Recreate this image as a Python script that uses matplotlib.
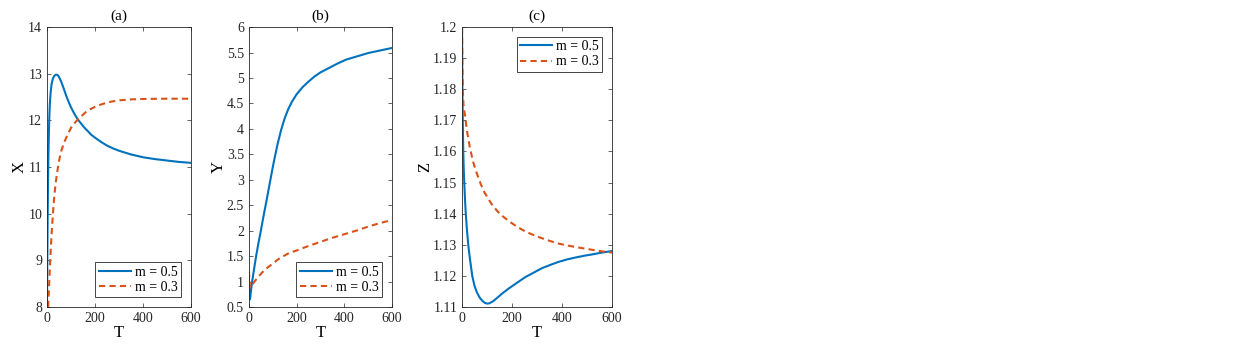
import numpy as np
import matplotlib
matplotlib.use("Agg")
import matplotlib.pyplot as plt

# colores tipo MATLAB
c1 = "#0072BD"
c2 = "#D95319"

# panel (a): X vs T
tXa = [0, 1, 2, 3, 4, 5, 6, 8, 10, 12, 15, 18, 20, 25, 30, 35, 40, 45, 50, 55, 60, 70, 80, 90, 100,
       110, 120, 130, 141, 155, 170, 185, 200, 225, 250, 275, 300, 350, 400, 450, 500, 550, 600]
Xa = [7.9, 8.7, 9.4, 10.0, 10.5, 10.9, 11.25, 11.75, 12.1, 12.35, 12.58, 12.73, 12.8, 12.9, 12.95, 12.975, 12.98, 12.97, 12.93, 12.88, 12.82, 12.68, 12.53, 12.4, 12.28,
      12.18, 12.09, 12.01, 11.94, 11.85, 11.77, 11.69, 11.63, 11.54, 11.46, 11.4, 11.35, 11.27, 11.21, 11.17, 11.14, 11.11, 11.09]
tXb = [5, 7, 10, 12, 15, 18, 20, 25, 30, 35, 40, 45, 50, 55, 60, 65, 75, 85, 100, 113, 125, 141,
       160, 180, 200, 230, 266, 300, 350, 400, 500, 600]
Xb = [8.0, 8.25, 8.6, 8.85, 9.15, 9.45, 9.62, 10.02, 10.35, 10.6, 10.8, 10.97, 11.12, 11.25, 11.35, 11.43, 11.57, 11.68, 11.84, 11.93, 12.0, 12.08,
      12.17, 12.24, 12.29, 12.35, 12.4, 12.43, 12.45, 12.46, 12.465, 12.465]

# panel (b): Y vs T
tYa = [0, 1, 2, 3, 4, 6, 8, 10, 15, 20, 30, 40, 50, 60, 70, 80, 90, 100, 110, 120, 135, 150, 165,
       180, 200, 225, 250, 275, 300, 337, 370, 407, 450, 500, 550, 600]
Ya = [1.05, 0.85, 0.72, 0.66, 0.65, 0.7, 0.8, 0.88, 1.05, 1.2, 1.5, 1.76, 2.0, 2.26, 2.5, 2.75, 3.0, 3.25, 3.48, 3.7, 3.98, 4.21, 4.39,
      4.53, 4.68, 4.82, 4.93, 5.03, 5.11, 5.2, 5.28, 5.36, 5.42, 5.49, 5.54, 5.59]
tYb = [0, 2, 4, 6, 10, 15, 20, 30, 40, 50, 60, 71, 85, 100, 115, 127, 145, 160, 180, 200,
       250, 300, 350, 400, 450, 500, 550, 600]
Yb = [1.2, 1.0, 0.9, 0.88, 0.9, 0.94, 0.98, 1.04, 1.1, 1.15, 1.2, 1.25, 1.3, 1.35, 1.41, 1.45, 1.5, 1.54, 1.58, 1.61,
      1.7, 1.78, 1.86, 1.93, 2.0, 2.08, 2.15, 2.21]

# panel (c): Z vs T
tZa = [0, 1, 2, 3, 5, 7, 9, 12, 15, 20, 25, 30, 35, 41, 50, 59, 70, 80, 90, 100, 110, 125, 140, 160,
       186, 220, 253, 290, 320, 355, 386, 420, 453, 490, 520, 560, 600]
Za = [1.2, 1.185, 1.176, 1.17, 1.16, 1.154, 1.15, 1.1445, 1.14, 1.1345, 1.13, 1.1265, 1.1235, 1.12, 1.1168, 1.1148, 1.1131, 1.1121, 1.1114, 1.1111, 1.1112, 1.1119, 1.1129, 1.1143,
      1.1159, 1.1178, 1.1196, 1.1212, 1.1225, 1.1236, 1.1245, 1.1253, 1.1259, 1.1265, 1.1269, 1.1275, 1.128]
tZb = [0, 2, 4, 6, 9, 12, 20, 32, 45, 59, 75, 90, 100, 119, 150, 186, 220, 253, 290, 320, 353,
       386, 420, 453, 490, 520, 560, 600]
Zb = [1.2, 1.185, 1.178, 1.175, 1.173, 1.1716, 1.1665, 1.161, 1.1565, 1.153, 1.1495, 1.1468, 1.1455, 1.143, 1.14, 1.1377, 1.1358, 1.1343, 1.1330, 1.1321, 1.1312,
      1.1304, 1.1298, 1.1293, 1.1288, 1.1284, 1.1279, 1.1275]

etiquetas = ["m = 0.5", "m = 0.3"]
xticks = [0, 200, 400, 600]

plt.rcParams["font.family"] = ["Liberation Serif", "DejaVu Serif"]
plt.rcParams["font.size"] = 10

fig = plt.figure(figsize=(12.46, 3.46), dpi=100)

paneles = [
    ([0.0377, 0.1127, 0.1156, 0.809], tXa, Xa, tXb, Xb, "X", "(a)", (8, 14), np.arange(8, 14.01, 1), "lower right"),
    ([0.1998, 0.1127, 0.1148, 0.809], tYa, Ya, tYb, Yb, "Y", "(b)", (0.5, 6), np.arange(0.5, 6.01, 0.5), "lower right"),
    ([0.3708, 0.1127, 0.1204, 0.809], tZa, Za, tZb, Zb, "Z", "(c)", (1.11, 1.2), np.arange(1.11, 1.2001, 0.01), "upper right"),
]

for pos, t1, y1, t2, y2, lab, tit, lim, yt, loc in paneles:
    ax = fig.add_axes(pos)
    ax.plot(t1, y1, color=c1, lw=1.5, label=etiquetas[0])
    ax.plot(t2, y2, color=c2, lw=1.5, ls=(0, (3, 2)), label=etiquetas[1])
    ax.set_xlim(0, 600)
    ax.set_ylim(*lim)
    ax.set_xticks(xticks)
    ax.set_yticks(yt)
    ax.set_yticklabels(["%g" % round(v, 2) for v in yt])
    ax.tick_params(direction="in", top=True, right=True, length=3, width=0.5, colors="#262626", labelsize=10)
    for s in ax.spines.values():
        s.set_linewidth(0.6)
        s.set_color("#262626")
    ax.set_xlabel("T", fontsize=12, labelpad=0)
    ax.set_ylabel(lab, fontsize=12, labelpad=0)
    ax.set_title(tit, fontsize=11, pad=5)
    leg = ax.legend(loc=loc, fontsize=10, fancybox=False, edgecolor="#262626",
                    handlelength=2.3, borderpad=0.25, labelspacing=0.15, handletextpad=0.3,
                    borderaxespad=0.7, framealpha=1)
    leg.get_frame().set_linewidth(0.6)

plt.savefig("out.png", dpi=100)
